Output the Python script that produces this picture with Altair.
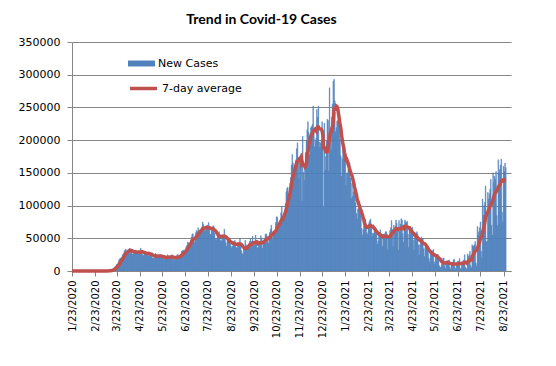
import altair as alt
import pandas as pd

# Daily new Covid-19 cases (thousands), one list per month
jan_feb_2020 = [0, 0, 0, 0, 0, 0, 0, 0, 0, 0, 0, 0, 0, 0, 0, 0, 0, 0, 0,
                0, 0, 0, 0, 0, 0, 0, 0, 0, 0, 0, 0, 0, 0, 0, 0, 0, 0, 0]
mar_2020 = [0, 0, 0, 0, 0, 0, 0.1, 0.1, 0.2, 0.3, 0.3, 0.4, 0.8, 0.7, 1.0, 1.2, 1.8, 2.5, 4.6, 5.6,
            6.4, 8.0, 10.0, 10.5, 12.7, 17.0, 18.6, 19.5, 19.5, 21.0, 25.0]
apr_2020 = [26.5, 29.8, 32.1, 33.3, 26.1, 29.5, 30.7, 32.6, 34.6, 33.7, 29.9, 27.9, 25.3, 26.2, 30.1,
            31.5, 32.1, 29.1, 26.5, 26.8, 25.9, 29.4, 31.0, 35.0, 32.0, 26.0, 23.0, 24.5, 27.0, 29.5]
may_2020 = [29, 29, 26, 24, 23, 24, 28, 27, 26, 20, 19, 21, 21, 27, 25, 25, 19, 22, 21, 22,
            25, 24, 22, 20, 19, 18, 19, 22, 23, 25, 21]
jun_2020 = [20, 20, 20, 22, 25, 23, 18, 17, 18, 21, 23, 25, 25, 20, 19, 24, 26, 30, 31, 32,
            27, 29, 33, 37, 39, 44, 43, 40, 43, 47]
jul_2020 = [52, 56, 57, 46, 44, 48, 59, 62, 60, 66, 61, 59, 58, 65, 67, 75, 71, 63, 60, 63,
            64, 70, 69, 74, 65, 56, 56, 64, 67, 69, 68]
aug_2020 = [58, 49, 47, 50, 53, 55, 60, 56, 47, 46, 55, 53, 52, 64, 53, 43, 38, 47, 46, 45,
            48, 48, 38, 35, 38, 41, 45, 47, 44, 36, 35]
sep_2020 = [40, 42, 43, 50, 42, 31, 25, 27, 34, 36, 47, 40, 34, 35, 39, 39, 45, 49, 42, 36,
            53, 39, 39, 44, 55, 46, 35, 36, 43, 41]
oct_2020 = [45, 54, 49, 35, 42, 44, 50, 56, 57, 54, 45, 42, 51, 59, 64, 70, 56, 48, 58, 61,
            62, 74, 83, 82, 62, 67, 74, 78, 89, 99, 83]
nov_2020 = [81, 86, 92, 103, 121, 126, 128, 105, 119, 134, 143, 162, 178, 165, 136, 158, 162, 170, 187, 196,
            173, 141, 174, 171, 180, 107, 206, 151, 139, 160]
dec_2020 = [181, 199, 216, 228, 212, 178, 192, 219, 221, 224, 252, 216, 190, 198, 203, 247, 235, 252, 197, 189,
            196, 200, 228, 195, 97, 226, 154, 175, 199, 232, 230]
jan_2021 = [153, 280, 209, 185, 235, 255, 290, 293, 260, 213, 219, 229, 230, 235, 241, 201, 176, 145, 172, 188,
            192, 190, 172, 131, 150, 148, 156, 166, 165, 142, 111]
feb_2021 = [134, 114, 121, 123, 134, 104, 88, 79, 95, 95, 106, 100, 85, 65, 55, 63, 69, 69, 79, 72,
            59, 56, 71, 74, 77, 79, 65, 53]
mar_2021 = [58, 57, 66, 67, 65, 59, 41, 46, 57, 57, 63, 55, 52, 38, 54, 53, 57, 60, 60, 50,
            33, 53, 55, 62, 66, 77, 63, 37, 70, 61, 68]
apr_2021 = [78, 73, 63, 32, 77, 61, 72, 80, 78, 57, 44, 67, 78, 75, 74, 76, 56, 36, 67, 61,
            66, 62, 67, 47, 32, 50, 50, 58, 60, 56]
may_2021 = [40, 25, 40, 46, 52, 48, 50, 34, 22, 36, 37, 38, 36, 38, 19, 14, 27, 26, 30, 31,
            33, 14, 10, 21, 24, 23, 26, 22, 8, 5, 6]
jun_2021 = [10, 17, 19, 20, 8, 4, 12, 13, 15, 16, 17, 6, 3, 9, 12, 11, 17, 18, 5, 3,
            10, 13, 15, 15, 19, 4, 3, 13, 13, 16]
jul_2021 = [17, 25, 6, 3, 4, 26, 22, 24, 30, 8, 5, 40, 38, 38, 40, 45, 12, 8, 68, 55,
            60, 66, 75, 30, 20, 110, 85, 100, 105, 130, 45]
aug_2021 = [45, 120, 110, 118, 125, 140, 70, 55, 150, 135, 145, 140, 152, 85, 70, 170, 150, 155, 162, 171,
            90, 75, 160, 152, 165, 158]

months = [
    ("2020-01-23", jan_feb_2020), ("2020-03-01", mar_2020), ("2020-04-01", apr_2020),
    ("2020-05-01", may_2020), ("2020-06-01", jun_2020), ("2020-07-01", jul_2020),
    ("2020-08-01", aug_2020), ("2020-09-01", sep_2020), ("2020-10-01", oct_2020),
    ("2020-11-01", nov_2020), ("2020-12-01", dec_2020), ("2021-01-01", jan_2021),
    ("2021-02-01", feb_2021), ("2021-03-01", mar_2021), ("2021-04-01", apr_2021),
    ("2021-05-01", may_2021), ("2021-06-01", jun_2021), ("2021-07-01", jul_2021),
    ("2021-08-01", aug_2021),
]

# x-axis tick dates (labels) and axis extent
tick_dates = ["2020-01-23", "2020-02-23", "2020-03-23", "2020-04-23", "2020-05-23", "2020-06-23",
              "2020-07-23", "2020-08-23", "2020-09-23", "2020-10-23", "2020-11-23", "2020-12-23",
              "2021-01-23", "2021-02-23", "2021-03-23", "2021-04-23", "2021-05-23", "2021-06-23",
              "2021-07-23", "2021-08-23"]
x_domain = ["2020-01-23", "2021-09-02"]
y_ticks = [0, 50000, 100000, 150000, 200000, 250000, 300000, 350000]

FMT = "%Y-%m-%dT%H:%M:%SZ"
rows = []
for start, vals in months:
    for i, v in enumerate(vals):
        d = pd.Timestamp(start) + pd.Timedelta(days=i)
        rows.append({
            "date": d.strftime(FMT),
            "start": (d - pd.Timedelta(hours=12)).strftime(FMT),
            "end": (d + pd.Timedelta(hours=12)).strftime(FMT),
            "cases": v * 1000,
            "s1": "New Cases",
            "s2": "7-day average",
        })
df = pd.DataFrame(rows)


def dt(s):
    y, m, d = (int(p) for p in s.split("-"))
    return alt.DateTime(year=y, month=m, date=d, utc=True)


BLUE = "#4F81BD"
RED = "#C0504D"
GRAY = "#868686"

xscale = alt.Scale(type="utc", domain=[dt(x_domain[0]), dt(x_domain[1])])
xaxis = alt.Axis(values=[dt(t) for t in tick_dates], format="%-m/%-d/%Y", labelAngle=270,
                 labelFont="DejaVu Sans", labelFontSize=10, labelColor="black",
                 labelFlush=False, labelOverlap=False, labelPadding=4,
                 tickColor=GRAY, tickSize=5, domainColor=GRAY, grid=False, title=None)
yscale = alt.Scale(domain=[0, 350000])
yaxis = alt.Axis(values=y_ticks, format="d", labelFont="DejaVu Sans", labelFontSize=11,
                 labelColor="black", labelPadding=7, tickColor=GRAY, tickSize=5,
                 domainColor=GRAY, grid=True, gridColor=GRAY, title=None)

base = alt.Chart(df)

bars = base.mark_rect(clip=True, strokeWidth=0.4).encode(
    x=alt.X("start:T", scale=xscale, axis=xaxis),
    x2="end:T",
    y=alt.Y("cases:Q", scale=yscale, axis=yaxis),
    y2=alt.datum(0),
    fill=alt.Fill("s1:N", scale=alt.Scale(domain=["New Cases"], range=[BLUE]),
                  legend=alt.Legend(title=None, orient="none", legendX=56, legendY=8,
                                    symbolType="M-1,-0.22H1V0.22H-1Z", symbolSize=729,
                                    symbolStrokeWidth=0, labelFont="DejaVu Sans",
                                    labelFontSize=11, labelColor="black", labelOffset=3,
                                    padding=0)),
    stroke=alt.value(BLUE),
)

line = base.transform_window(
    avg="mean(cases)", frame=[-6, 0], sort=[alt.SortField("date")]
).mark_line(strokeWidth=3.5).encode(
    x=alt.X("date:T", scale=xscale, axis=xaxis),
    y=alt.Y("avg:Q", scale=yscale, axis=yaxis),
    stroke=alt.Stroke("s2:N", scale=alt.Scale(domain=["7-day average"], range=[RED]),
                      legend=alt.Legend(title=None, orient="none", legendX=56, legendY=31,
                                        symbolType="stroke", symbolSize=729,
                                        symbolStrokeWidth=3.5, labelFont="DejaVu Sans",
                                        labelFontSize=11, labelColor="black", labelOffset=3,
                                        padding=0)),
)

chart = alt.layer(bars, line).properties(
    width=439, height=229,
    title=alt.TitleParams("Trend in Covid-19 Cases", font="Lato", fontSize=14,
                          fontWeight="bold", color="black", anchor="middle", dx=-30, offset=9),
    autosize=alt.AutoSizeParams(type="none"),
    padding={"left": 64, "top": 34, "right": 25, "bottom": 80},
).configure_view(stroke=None)

chart.save("out.html", embed_options={"renderer": "svg", "actions": False})
